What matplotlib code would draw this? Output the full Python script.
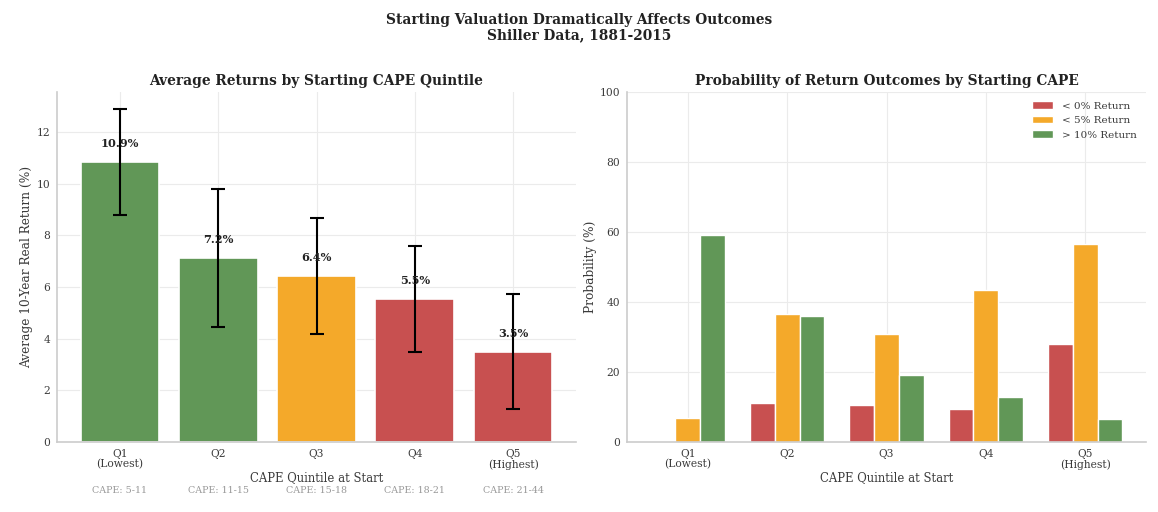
import matplotlib
matplotlib.use("Agg")
import matplotlib.pyplot as plt
import matplotlib.transforms as mtransforms
import numpy as np

plt.rcParams['font.family'] = ['DejaVu Serif']

quintiles = ["Q1\n(Lowest)", "Q2", "Q3", "Q4", "Q5\n(Highest)"]
cape_ranges = ["CAPE: 5-11", "CAPE: 11-15", "CAPE: 15-18", "CAPE: 18-21", "CAPE: 21-44"]
avg_returns = [10.85, 7.13, 6.42, 5.52, 3.50]
return_std = [2.05, 2.68, 2.25, 2.05, 2.23]
value_labels = ["10.9%", "7.2%", "6.4%", "5.5%", "3.5%"]
bar_color_keys = ["green", "green", "orange", "red", "red"]

prob_below0 = [0.0, 11.1, 10.7, 9.5, 28.1]
prob_below5 = [6.9, 36.7, 30.9, 43.5, 56.6]
prob_above10 = [59.2, 36.1, 19.1, 12.9, 6.7]
series_labels = ["< 0% Return", "< 5% Return", "> 10% Return"]

palette = {"green": "#619757", "orange": "#F4A92A", "red": "#C85050"}
txt = "#3a3a3a"

fig = plt.figure(figsize=(11.58, 5.12), dpi=100)
ax1 = fig.add_axes([57/1158, 1-442/512, (576-57)/1158, 350/512])
ax2 = fig.add_axes([627/1158, 1-442/512, (1146-627)/1158, 350/512])

def style(ax):
    ax.set_facecolor("white")
    ax.grid(True, color="#ebebeb", linewidth=0.8)
    ax.set_axisbelow(True)
    for s in ["top", "right"]:
        ax.spines[s].set_visible(False)
    for s in ["left", "bottom"]:
        ax.spines[s].set_color("#cccccc")
        ax.spines[s].set_linewidth(1.2)
    ax.tick_params(colors=txt, labelsize=7.7, length=0, pad=5)

x = np.arange(len(quintiles))
style(ax1)
ax1.bar(x, avg_returns, width=0.8, color=[palette[k] for k in bar_color_keys],
        edgecolor="white", linewidth=1.2, yerr=return_std, capsize=5,
        error_kw=dict(ecolor="black", elinewidth=1.5, capthick=1.5))
for xi, v, lab in zip(x, avg_returns, value_labels):
    ax1.text(xi, v + 0.5, lab, ha="center", va="bottom", fontsize=8.2,
             fontweight="bold", color="#222222")
ax1.set_xticks(x)
ax1.set_xticklabels(quintiles, linespacing=1.0)
ax1.set_yticks([0, 2, 4, 6, 8, 10, 12])
ax1.set_ylabel("Average 10-Year Real Return (%)", fontsize=8.7, color=txt, labelpad=2)
ax1.set_xlabel("CAPE Quintile at Start", fontsize=8.4, color=txt, labelpad=1)
ax1.set_title("Average Returns by Starting CAPE Quintile", fontsize=9.9,
              fontweight="bold", color="#222222", pad=5)
trans = mtransforms.blended_transform_factory(ax1.transData, ax1.transAxes)
for xi, c in zip(x, cape_ranges):
    ax1.text(xi, -0.138, c, transform=trans, ha="center", va="center",
             fontsize=6.8, color="#999999")

style(ax2)
w = 0.25
ax2.bar(x - w, prob_below0, w, color=palette["red"], edgecolor="white", linewidth=1, label=series_labels[0])
ax2.bar(x, prob_below5, w, color=palette["orange"], edgecolor="white", linewidth=1, label=series_labels[1])
ax2.bar(x + w, prob_above10, w, color=palette["green"], edgecolor="white", linewidth=1, label=series_labels[2])
ax2.set_xticks(x)
ax2.set_xticklabels(quintiles, linespacing=1.0)
ax2.set_ylim(0, 100)
ax2.set_yticks([0, 20, 40, 60, 80, 100])
ax2.set_ylabel("Probability (%)", fontsize=8.7, color=txt, labelpad=2)
ax2.set_xlabel("CAPE Quintile at Start", fontsize=8.4, color=txt, labelpad=1)
ax2.set_title("Probability of Return Outcomes by Starting CAPE", fontsize=9.9,
              fontweight="bold", color="#222222", pad=5)
leg = ax2.legend(loc="upper right", frameon=False, fontsize=7.5, handlelength=2.1)
for t in leg.get_texts():
    t.set_color(txt)

fig.suptitle("Starting Valuation Dramatically Affects Outcomes\nShiller Data, 1881-2015",
             fontsize=9.9, fontweight="bold", color="#222222", y=0.975, linespacing=1.1)

fig.savefig("out.png", dpi=100, facecolor="white")
